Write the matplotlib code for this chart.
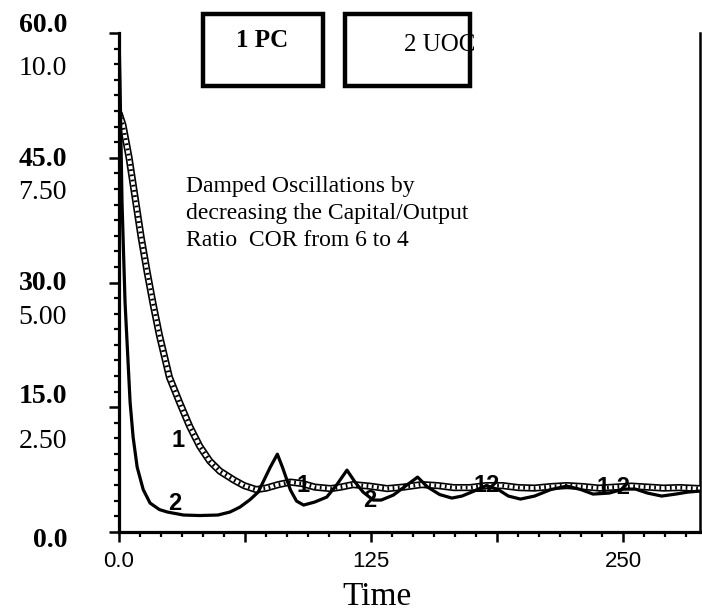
import matplotlib
matplotlib.use("Agg")
import matplotlib.pyplot as plt
from matplotlib.ticker import MultipleLocator
from matplotlib.patches import Rectangle

# ---------------- data ----------------
# Curve 1 (PC) and curve 2 (UOC), read on the inner 0-10 scale
t1 = [0, 2, 5, 8, 11, 14, 17, 20, 25, 30, 35, 40, 45, 50, 57, 62, 68, 73, 79, 85,
      91, 97, 105, 110, 116, 124, 133, 141, 150, 158, 166, 174, 182, 190, 198,
      206, 214, 222, 230, 238, 246, 254, 262, 270, 278, 288]
pc = [8.4, 8.15, 7.5, 6.7, 5.9, 5.2, 4.55, 3.95, 3.1, 2.6, 2.12, 1.72, 1.42, 1.22,
      1.04, 0.93, 0.85, 0.88, 0.95, 1.0, 0.97, 0.9, 0.87, 0.9, 0.95, 0.92, 0.87,
      0.9, 0.95, 0.93, 0.89, 0.89, 0.93, 0.93, 0.89, 0.88, 0.91, 0.93, 0.91,
      0.88, 0.9, 0.92, 0.9, 0.88, 0.89, 0.87]

t2 = [0, 0.5, 1, 1.5, 3, 5.5, 7, 9, 12, 15.4, 20, 24, 32, 40, 49, 55, 60, 65, 69,
      72, 75, 78.5, 81, 85, 88, 91.5, 97, 103, 108, 113, 117, 121, 126, 130, 136,
      142, 148, 153, 159, 165, 170, 176, 182, 188, 193, 199, 206, 214, 222, 229,
      235, 243, 250, 256, 262, 269, 276, 282, 288]
uoc = [10.0, 9.0, 7.8, 6.6, 4.6, 2.6, 1.9, 1.3, 0.85, 0.58, 0.45, 0.4, 0.34, 0.33,
       0.34, 0.4, 0.5, 0.65, 0.8, 1.05, 1.3, 1.56, 1.3, 0.84, 0.62, 0.54, 0.6,
       0.7, 0.95, 1.24, 1.0, 0.8, 0.64, 0.64, 0.74, 0.92, 1.1, 0.9, 0.75, 0.68,
       0.72, 0.82, 0.93, 0.85, 0.72, 0.66, 0.72, 0.85, 0.92, 0.85, 0.76, 0.78,
       0.86, 0.86, 0.78, 0.72, 0.76, 0.8, 0.82]

xtick_vals = [0, 62.5, 125, 187.5, 250]
xtick_labels = ["0.0", "", "125", "", "250"]
ytick_vals = [0, 2.5, 5.0, 7.5, 10.0]
ylabels_outer = ["0.0", "15.0", "30.0", "45.0", "60.0"]
ylabels_inner = ["", "2.50", "5.00", "7.50", "10.0"]

curve_labels = ["1", "2", "1", "2", "12", "1 2"]
curve_label_t = [29.3, 27.8, 91.3, 124.5, 182.5, 245]
curve_label_v = [1.84, 0.58, 0.94, 0.64, 0.94, 0.9]

# ---------------- figure ----------------
W, H = 702, 614
fig = plt.figure(figsize=(W / 100, H / 100), dpi=100)
ax = fig.add_axes([119 / W, 82 / H, 581 / W, 499 / H])
ax.set_xlim(0, 288)
ax.set_ylim(0, 10)

# curve 1: textured thick band
ax.plot(t1, pc, color="black", lw=5.2, solid_capstyle="butt", zorder=3)
ax.plot(t1, pc, color="white", lw=2.8, solid_capstyle="butt", zorder=4)
ax.plot(t1, pc, color="black", lw=2.8, dashes=(0.45, 0.9), zorder=5)
# curve 2: solid line
ax.plot(t2, uoc, color="black", lw=2.3, zorder=6, clip_on=True)

for s, tt, vv in zip(curve_labels, curve_label_t, curve_label_v):
    ax.text(tt, vv, s, fontfamily="Liberation Sans", fontweight="bold",
            fontsize=17, ha="center", va="center", zorder=7)

# spines
ax.spines["top"].set_visible(False)
for sp in ["left", "bottom"]:
    ax.spines[sp].set_linewidth(2.3)
ax.spines["right"].set_linewidth(1.8)

ax.set_xticks(xtick_vals, xtick_labels)
ax.xaxis.set_minor_locator(MultipleLocator(125 / 12))
ax.set_yticks(ytick_vals, [""] * len(ytick_vals))
ax.yaxis.set_minor_locator(MultipleLocator(2.5 / 8))
ax.tick_params(axis="both", which="major", direction="out", length=7.5, width=1.8,
               color="black")
ax.tick_params(axis="both", which="minor", direction="out", length=3.5, width=1.6,
               color="black")
ax.tick_params(axis="x", which="major", pad=6)
for lab in ax.get_xticklabels():
    lab.set_fontfamily("Liberation Sans")
    lab.set_fontsize(16)

# y labels (two stacked scales)
def fy(ypx):
    return 1 - ypx / H

outer_base = [547, 403, 290, 166, 32]
inner_base = [0, 448, 324, 199, 75]
for s, yb in zip(ylabels_outer, outer_base):
    fig.text(67 / W, fy(yb), s, fontfamily="Liberation Serif", fontweight="bold",
             fontsize=20, ha="right", va="baseline")
for s, yb in zip(ylabels_inner, inner_base):
    if s:
        fig.text(67 / W, fy(yb), s, fontfamily="Liberation Serif",
                 fontsize=20, ha="right", va="baseline")

# x axis title
fig.text(377 / W, fy(605), "Time", fontfamily="Liberation Serif", fontsize=24,
         ha="center", va="baseline")

# legend boxes
fig.patches.append(Rectangle((203 / W, fy(86)), 120 / W, 72 / H, fill=False,
                             lw=3.2, edgecolor="black", transform=fig.transFigure))
fig.patches.append(Rectangle((345 / W, fy(86)), 125 / W, 72 / H, fill=False,
                             lw=3.2, edgecolor="black", transform=fig.transFigure))
fig.text(262 / W, fy(47), "1 PC", fontfamily="Liberation Serif", fontweight="bold",
         fontsize=18, ha="center", va="baseline")
fig.text(475 / W, fy(51), "2 UOC", fontfamily="Liberation Serif",
         fontsize=18, ha="right", va="baseline")

# annotation
note = ["Damped Oscillations by", "decreasing the Capital/Output",
        "Ratio  COR from 6 to 4"]
for i, line in enumerate(note):
    fig.text(186 / W, fy(192 + 27 * i), line, fontfamily="Liberation Serif",
             fontsize=17, ha="left", va="baseline")

fig.savefig("out.png", dpi=100)
